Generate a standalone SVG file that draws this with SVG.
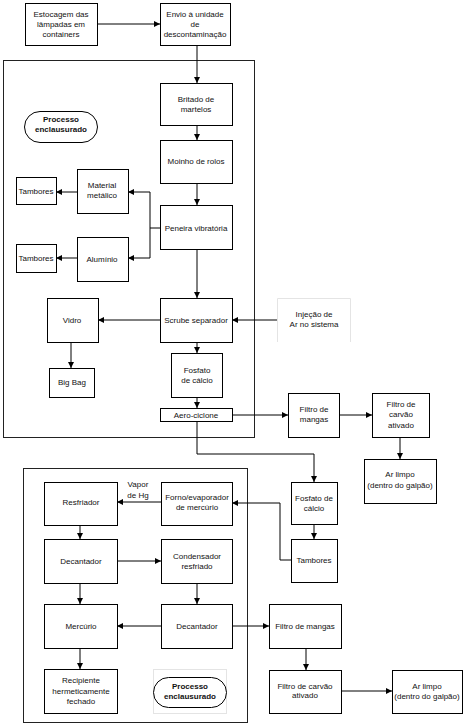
<svg xmlns="http://www.w3.org/2000/svg" width="468" height="727" viewBox="0 0 468 727">
<defs>
<marker id="ah" viewBox="0 0 6 6" refX="6" refY="3" markerWidth="6" markerHeight="6" markerUnits="userSpaceOnUse" orient="auto">
<path d="M0,0 L6,3 L0,6 Z" fill="#000"/>
</marker>
<style>
.b{fill:#fff;stroke:#000;stroke-width:1}
.enc{fill:none;stroke:#222;stroke-width:1}
.faint{fill:#fff;stroke:#e4e4e4;stroke-width:1}
text{font-family:"Liberation Sans",Arial,sans-serif;font-size:8px;fill:#111;text-anchor:middle}
.bold{font-weight:bold}
.c path{fill:none;stroke:#000;stroke-width:1;marker-end:url(#ah)}
</style>
</defs>
<rect width="468" height="727" fill="#fff"/>
<rect class="enc" x="3.5" y="60.5" width="251" height="377"/>
<rect class="enc" x="23.5" y="468.5" width="224" height="254"/>

<g class="c" id="connectors">
<path d="M97,24 H160"/>
<path d="M197,45 V83"/>
<path d="M197,125 V140"/>
<path d="M197,183 V205"/>
<path d="M160,228 H150 V192 H128"/>
<path d="M150,228 V258 H128"/>
<path d="M77,192 H56"/>
<path d="M77,258 H56"/>
<path d="M197,249 V298"/>
<path d="M160,320 H98"/>
<path d="M71,342 V368"/>
<path d="M277,320 H232"/>
<path d="M197,342 V353"/>
<path d="M197,397 V408"/>
<path d="M232,415 H288"/>
<path d="M339,415 H372"/>
<path d="M400,437 V459"/>
<path d="M197,421 V454 H314 V482"/>
<path d="M314,524 V539"/>
<path d="M291,560 H280 V503 H232"/>
<path d="M161,502 H117"/>
<path d="M80,525 V539"/>
<path d="M117,561 H161"/>
<path d="M80,583 V604"/>
<path d="M197,583 V604"/>
<path d="M161,626 H117"/>
<path d="M232,626 H269"/>
<path d="M80,648 V669"/>
<path d="M306,648 V670"/>
<path d="M341,691 H392"/>
</g>

<g id="estocagem"><rect class="b" x="25.5" y="3.5" width="72" height="42"/><text x="61" y="17">Estocagem das</text><text x="61" y="27">lâmpadas em</text><text x="61" y="37">containers</text></g>
<g id="envio"><rect class="b" x="160.5" y="3.5" width="70" height="42"/><text x="195" y="17">Envio à unidade</text><text x="195" y="27">de</text><text x="195" y="37">descontaminação</text></g>
<g id="pill1"><rect class="b" x="24.5" y="111.5" width="73" height="31" rx="15.5"/><text class="bold" x="61" y="122">Processo</text><text class="bold" x="61" y="132">enclausurado</text></g>
<g id="britado"><rect class="b" x="160.5" y="83.5" width="72" height="42"/><text x="196" y="102">Britado de</text><text x="196" y="112">martelos</text></g>
<g id="moinho"><rect class="b" x="160.5" y="140.5" width="72" height="43"/><text x="196" y="164">Moinho de rolos</text></g>
<g id="peneira"><rect class="b" x="160.5" y="205.5" width="72" height="44"/><text x="196" y="231">Peneira vibratória</text></g>
<g id="metalico"><rect class="b" x="77.5" y="169.5" width="51" height="44"/><text x="102" y="188">Material</text><text x="102" y="198">metálico</text></g>
<g id="tambores1"><rect class="b" x="16.5" y="177.5" width="40" height="27"/><text x="36" y="194">Tambores</text></g>
<g id="aluminio"><rect class="b" x="77.5" y="237.5" width="51" height="44"/><text x="102" y="262">Alumínio</text></g>
<g id="tambores2"><rect class="b" x="16.5" y="244.5" width="40" height="28"/><text x="36" y="261">Tambores</text></g>
<g id="scrube"><rect class="b" x="160.5" y="298.5" width="72" height="44"/><text x="196" y="323">Scrube separador</text></g>
<g id="vidro"><rect class="b" x="47.5" y="298.5" width="51" height="44"/><text x="72" y="323">Vidro</text></g>
<g id="bigbag"><rect class="b" x="49.5" y="368.5" width="45" height="29"/><text x="72" y="385">Big Bag</text></g>
<g id="fosfato1"><rect class="b" x="171.5" y="353.5" width="51" height="44"/><text x="197" y="373">Fosfato</text><text x="197" y="383">de cálcio</text></g>
<g id="aerociclone"><rect class="b" x="160.5" y="408.5" width="72" height="13"/><text x="196" y="418">Aero-ciclone</text></g>
<g id="injecao"><path d="M277.5,342 V298.5 H350.5 V342" fill="#fff" stroke="#e4e4e4"/><text x="314" y="317">Injeção de</text><text x="314" y="327">Ar no sistema</text></g>
<g id="filtromangas1"><rect class="b" x="288.5" y="393.5" width="51" height="44"/><text x="314" y="412">Filtro de</text><text x="314" y="422">mangas</text></g>
<g id="filtrocarvao1"><rect class="b" x="372.5" y="393.5" width="57" height="44"/><text x="401" y="407">Filtro de</text><text x="401" y="417">carvão</text><text x="401" y="428">ativado</text></g>
<g id="arlimpo1"><rect class="b" x="364.5" y="459.5" width="72" height="44"/><text x="400" y="477">Ar limpo</text><text x="400" y="488">(dentro do galpão)</text></g>
<g id="fosfato2"><rect class="b" x="291.5" y="482.5" width="46" height="42"/><text x="314" y="501">Fosfato de</text><text x="314" y="511">cálcio</text></g>
<g id="tambores3"><rect class="b" x="291.5" y="539.5" width="46" height="43"/><text x="314" y="563">Tambores</text></g>
<g id="resfriador"><rect class="b" x="44.5" y="482.5" width="73" height="43"/><text x="81" y="505">Resfriador</text></g>
<g id="vaporhg"><text x="138" y="487">Vapor</text><text x="138" y="498">de Hg</text></g>
<g id="forno"><rect class="b" x="161.5" y="482.5" width="71" height="43"/><text x="197" y="500">Forno/evaporador</text><text x="197" y="510">de mercúrio</text></g>
<g id="decantador1"><rect class="b" x="44.5" y="539.5" width="73" height="44"/><text x="81" y="564">Decantador</text></g>
<g id="condensador"><rect class="b" x="161.5" y="539.5" width="71" height="44"/><text x="197" y="559">Condensador</text><text x="197" y="569">resfriado</text></g>
<g id="mercurio"><rect class="b" x="44.5" y="604.5" width="73" height="44"/><text x="81" y="629">Mercúrio</text></g>
<g id="decantador2"><rect class="b" x="161.5" y="604.5" width="71" height="44"/><text x="197" y="629">Decantador</text></g>
<g id="recipiente"><rect class="b" x="44.5" y="669.5" width="73" height="44"/><text x="81" y="683">Recipiente</text><text x="81" y="694">hermeticamente</text><text x="81" y="704">fechado</text></g>
<g id="pill2"><rect class="faint" x="153.5" y="669.5" width="73" height="44"/><rect class="b" x="153.5" y="677.5" width="73" height="30" rx="15"/><text class="bold" x="190" y="689">Processo</text><text class="bold" x="190" y="699">enclausurado</text></g>
<g id="filtromangas2"><rect class="b" x="269.5" y="604.5" width="72" height="44"/><text x="305" y="629">Filtro de mangas</text></g>
<g id="filtrocarvao2"><rect class="b" x="269.5" y="670.5" width="72" height="43"/><text x="305" y="689">Filtro de carvão</text><text x="305" y="698">ativado</text></g>
<g id="arlimpo2"><rect class="b" x="392.5" y="670.5" width="70" height="43"/><text x="427" y="689">Ar limpo</text><text x="427" y="699">(dentro do galpão)</text></g>
</svg>
